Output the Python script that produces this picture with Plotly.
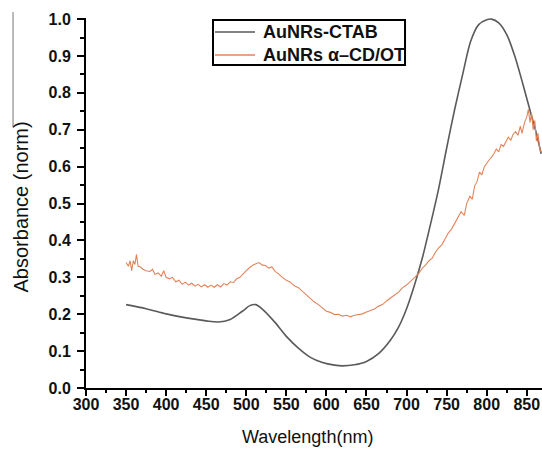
import plotly.graph_objects as go

# AuNRs-CTAB (smooth)
ctab_nm = [350, 375, 400, 425, 450, 465, 480, 495, 505, 512, 520, 535, 550, 565, 580, 595,
           610, 620, 635, 650, 665, 680, 690, 700, 710, 720, 730, 740, 750, 760, 770, 780,
           790, 800, 806, 815, 825, 835, 845, 855, 862, 868]
ctab_abs = [0.226, 0.215, 0.201, 0.190, 0.182, 0.179, 0.186, 0.208, 0.224, 0.226, 0.214, 0.180,
            0.140, 0.108, 0.083, 0.069, 0.062, 0.060, 0.063, 0.072, 0.093, 0.130, 0.165, 0.215,
            0.280, 0.355, 0.445, 0.540, 0.650, 0.755, 0.850, 0.940, 0.985, 0.998, 1.000, 0.990,
            0.958, 0.900, 0.825, 0.745, 0.690, 0.635]

# AuNRs alpha-CD/OT (noisy)
cd_nm = [350, 353, 355, 357, 359, 361, 363, 365, 368, 371, 375, 380, 383, 386, 390, 394, 397,
         400, 404, 408, 412, 416, 420, 424, 428, 432, 436, 440, 444, 448, 452, 456, 460, 464,
         468, 472, 476, 480, 484, 488, 492, 496, 500, 504, 508, 512, 516, 520, 524, 528, 532,
         536, 540, 545, 550, 555, 560, 565, 570, 575, 580, 585, 590, 595, 600, 605, 610, 615,
         620, 625, 630, 635, 640, 645, 650, 655, 660, 665, 670, 675, 680, 685, 690, 695, 700,
         705, 710, 715, 720, 724, 728, 732, 736, 740, 744, 748, 752, 756, 760, 764, 768, 772,
         775, 779, 782, 785, 788, 791, 794, 797, 800, 803, 806, 809, 812, 815, 818, 821, 824,
         827, 830, 833, 836, 839, 842, 844, 847, 850, 852, 854, 856, 858, 860, 862, 864, 866, 868]
cd_abs = [0.340, 0.330, 0.345, 0.318, 0.345, 0.335, 0.362, 0.330, 0.328, 0.322, 0.318, 0.316,
          0.322, 0.308, 0.312, 0.303, 0.318, 0.300, 0.296, 0.300, 0.288, 0.292, 0.281, 0.287,
          0.279, 0.284, 0.276, 0.281, 0.274, 0.280, 0.273, 0.279, 0.273, 0.280, 0.274, 0.283,
          0.279, 0.288, 0.286, 0.296, 0.300, 0.310, 0.318, 0.326, 0.333, 0.337, 0.340, 0.333,
          0.332, 0.325, 0.328, 0.316, 0.310, 0.300, 0.292, 0.287, 0.277, 0.272, 0.262, 0.252,
          0.244, 0.233, 0.226, 0.216, 0.208, 0.205, 0.199, 0.200, 0.195, 0.197, 0.193, 0.197,
          0.199, 0.201, 0.206, 0.210, 0.214, 0.222, 0.226, 0.236, 0.243, 0.252, 0.260, 0.272,
          0.279, 0.289, 0.300, 0.310, 0.326, 0.334, 0.345, 0.352, 0.368, 0.380, 0.388, 0.405,
          0.420, 0.430, 0.446, 0.458, 0.478, 0.468, 0.500, 0.520, 0.512, 0.548, 0.560, 0.585,
          0.578, 0.600, 0.610, 0.618, 0.626, 0.635, 0.648, 0.640, 0.660, 0.655, 0.668, 0.680,
          0.672, 0.688, 0.695, 0.685, 0.710, 0.690, 0.718, 0.735, 0.755, 0.720, 0.745, 0.700,
          0.725, 0.670, 0.690, 0.650, 0.640]

x_ticks = [300, 350, 400, 450, 500, 550, 600, 650, 700, 750, 800, 850]
y_ticks = [0.0, 0.1, 0.2, 0.3, 0.4, 0.5, 0.6, 0.7, 0.8, 0.9, 1.0]
series_names = ["AuNRs-CTAB", "AuNRs α–CD/OT"]
series_colors = ["#5a5a5a", "#E2845A"]

FONT = "Liberation Sans, Arial, sans-serif"

fig = go.Figure()
fig.add_trace(go.Scatter(x=ctab_nm, y=ctab_abs, mode="lines", name=series_names[0], showlegend=False,
                         line=dict(color=series_colors[0], width=1.6, shape="spline", smoothing=0.8)))
fig.add_trace(go.Scatter(x=cd_nm, y=cd_abs, mode="lines", name=series_names[1], showlegend=False,
                         line=dict(color=series_colors[1], width=1.1)))

tickfont = dict(family=FONT, size=16, color="#111", weight="bold")

# manual legend box (paper coordinates)
leg_x0, leg_x1, leg_y0, leg_y1 = 0.2785, 0.6996, 0.873, 0.9946
row_y = [0.962, 0.900]
shapes = [dict(type="rect", xref="paper", yref="paper", x0=leg_x0, x1=leg_x1, y0=leg_y0, y1=leg_y1,
               line=dict(color="black", width=2), fillcolor="white", layer="above")]
annotations = []
for name, col, ry in zip(series_names, series_colors, row_y):
    shapes.append(dict(type="line", xref="paper", yref="paper", x0=0.2829, x1=0.3706, y0=ry, y1=ry,
                       line=dict(color=col, width=1.6), layer="above"))
    annotations.append(dict(text=name, xref="paper", yref="paper", x=0.384, y=ry, xanchor="left",
                            yanchor="middle", showarrow=False,
                            font=dict(family=FONT, size=18, color="#111", weight="bold")))

annotations += [
    dict(text="Wavelength(nm)", xref="paper", yref="paper", x=0.486, y=-0.133,
         xanchor="center", yanchor="middle", showarrow=False, font=dict(size=18, color="#111")),
    dict(text="Absorbance (norm)", xref="paper", yref="paper", x=-0.143, y=0.49,
         xanchor="center", yanchor="middle", textangle=-90, showarrow=False,
         font=dict(size=20, color="#111")),
]
shapes.append(dict(type="line", xref="paper", yref="paper", x0=-0.160, x1=-0.160, y0=1.016, y1=0.705,
                   line=dict(color="#777", width=1)))

fig.update_layout(
    width=542, height=449,
    margin=dict(l=86, r=0, t=18, b=61),
    paper_bgcolor="white", plot_bgcolor="white",
    font=dict(family=FONT, color="#111", size=16),
    showlegend=False,
    xaxis=dict(range=[300, 869], tickvals=x_ticks, ticks="outside", ticklen=6, tickwidth=1.8,
               tickcolor="black", showline=True, linecolor="black", linewidth=2,
               showgrid=False, zeroline=False, automargin=False, tickfont=tickfont,
               ticklabelstandoff=-5,
               minor=dict(dtick=25, tick0=300, ticks="outside", ticklen=3, tickcolor="black", tickwidth=1.8)),
    yaxis=dict(range=[0, 1.003], tickvals=y_ticks, tickformat=".1f", ticks="outside", ticklen=7,
               tickwidth=1.8, tickcolor="black", showline=True, linecolor="black", linewidth=2,
               showgrid=False, zeroline=False, automargin=False, tickfont=tickfont,
               ticklabelstandoff=3,
               minor=dict(dtick=0.05, tick0=0, ticks="outside", ticklen=4, tickcolor="black", tickwidth=1.8)),
    annotations=annotations,
    shapes=shapes,
)

fig.write_html("out.html", config={"displayModeBar": False},
               post_script="document.body.style.margin='0px';document.body.style.overflow='hidden';")
